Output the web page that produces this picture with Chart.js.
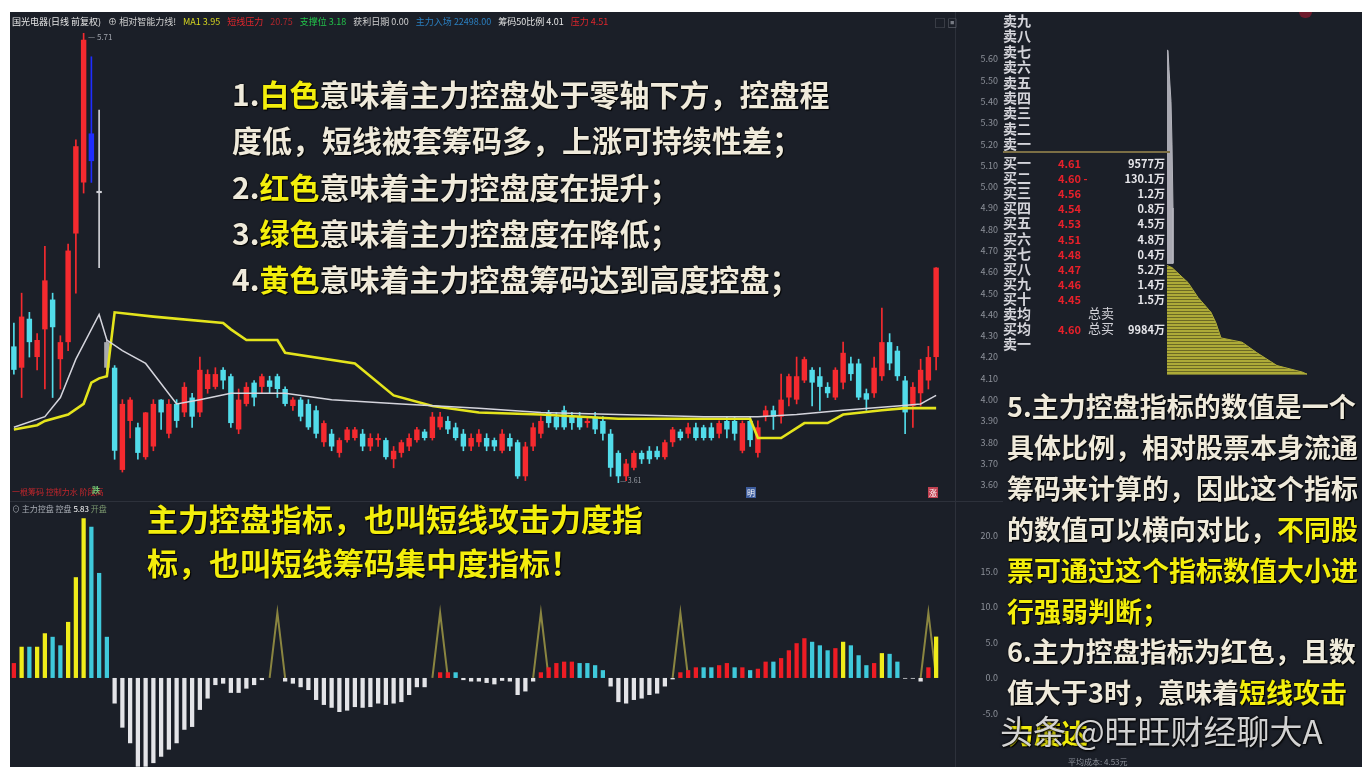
<!DOCTYPE html>
<html>
<head>
<meta charset="utf-8">
<script src="https://cdn.jsdelivr.net/npm/chart.js@4.4.1/dist/chart.umd.min.js"></script>
<style>
body { margin:0; width:1362px; height:767px; background:#fff; position:relative; overflow:hidden;
       font-family:"Noto Sans CJK SC","Noto Sans",sans-serif; }
#stage { position:absolute; left:10px; top:12px; width:1352px; height:755px; background:#1b1f28; }
canvas { position:absolute; }
.t { position:absolute; white-space:nowrap; }
.note { position:absolute; white-space:nowrap; font-weight:700; color:#efeadb;
        text-shadow:0 0 2px #000, 1px 1px 1px #000; }
.hl { color:#f3ee0c; }
.sep { position:absolute; background:#2d313b; }
.hdr span { margin-right:7px; }
</style>
</head>
<body>
<div id="stage"></div>
<div class="sep" style="left:955px;top:12px;width:1px;height:755px"></div>
<div class="sep" style="left:10px;top:501px;width:993px;height:1px"></div>

<canvas id="kline" width="988" height="488" style="left:10px;top:12px"></canvas>
<canvas id="depth" width="195" height="488" style="left:1167px;top:12px"></canvas>
<canvas id="ctrl" width="988" height="264" style="left:10px;top:503px"></canvas>

<div id="overlay"></div>

<script>
// K线数据 (日线, 120根)
const candleOpen  = [4.25,4.15,4.38,4.20,4.33,4.47,4.19,4.27,4.78,5.02,5.25,4.98,4.27,4.15,3.67,3.90,3.87,3.73,3.78,4.00,
                     3.84,3.98,3.94,4.01,3.94,4.05,4.06,4.14,4.11,3.86,3.98,4.08,4.06,4.09,4.11,4.05,3.97,4.00,3.98,3.95,
                     3.80,3.84,3.75,3.81,3.82,3.84,3.78,3.81,3.81,3.72,3.75,3.78,3.81,3.85,3.82,3.87,3.90,3.87,3.84,3.78,
                     3.80,3.82,3.81,3.76,3.82,3.80,3.64,3.78,3.84,3.94,3.92,3.95,3.92,3.92,3.89,3.92,3.90,3.84,3.75,3.64,
                     3.68,3.75,3.76,3.76,3.73,3.80,3.85,3.84,3.87,3.87,3.87,3.84,3.90,3.90,3.76,3.90,3.75,3.92,3.95,3.92,
                     4.01,4.00,4.09,4.14,4.11,4.06,4.01,4.08,4.17,4.17,4.03,4.03,4.11,4.27,4.23,4.09,3.97,4.03,4.09,4.20];
const candleClose = [4.14,4.39,4.27,4.28,4.56,4.34,4.27,4.70,5.19,5.69,5.12,4.97,4.15,3.76,3.98,4.00,3.75,3.94,3.98,3.94,
                     3.98,3.90,4.06,3.92,4.14,4.12,4.12,4.09,3.89,4.00,4.06,4.01,4.11,4.06,4.05,3.98,4.00,3.92,3.87,3.84,
                     3.89,3.78,3.81,3.86,3.86,3.78,3.82,3.82,3.73,3.76,3.80,3.82,3.86,3.82,3.92,3.92,3.86,3.82,3.78,3.82,
                     3.84,3.78,3.78,3.84,3.78,3.64,3.78,3.87,3.90,3.89,3.87,3.87,3.89,3.87,3.90,3.86,3.84,3.68,3.64,3.70,
                     3.75,3.72,3.72,3.73,3.80,3.86,3.82,3.87,3.82,3.82,3.82,3.89,3.86,3.84,3.89,3.81,3.87,3.95,3.92,4.00,
                     4.11,4.11,4.19,4.08,4.06,4.03,4.14,4.22,4.12,4.01,4.00,4.15,4.27,4.17,4.11,3.94,4.06,4.14,4.20,4.62];
const candleHigh  = [4.36,4.50,4.41,4.31,4.72,4.50,4.30,4.73,5.22,5.72,5.61,5.36,4.28,4.16,4.00,4.01,3.89,3.94,4.00,4.00,
                     4.00,4.00,4.08,4.03,4.20,4.14,4.15,4.15,4.12,4.05,4.08,4.09,4.12,4.11,4.12,4.06,4.01,4.01,4.00,3.97,
                     3.90,3.86,3.82,3.87,3.87,3.86,3.84,3.84,3.82,3.78,3.81,3.84,3.87,3.86,3.94,3.94,3.92,3.89,3.86,3.84,
                     3.86,3.84,3.82,3.86,3.84,3.81,3.80,3.89,3.92,3.95,3.94,3.97,3.94,3.94,3.92,3.94,3.92,3.86,3.76,3.72,
                     3.76,3.76,3.78,3.78,3.81,3.87,3.86,3.89,3.89,3.88,3.89,3.90,3.92,3.92,3.90,3.92,3.90,3.97,3.97,4.12,
                     4.12,4.20,4.20,4.15,4.15,4.08,4.15,4.27,4.20,4.19,4.05,4.20,4.43,4.31,4.25,4.11,4.08,4.19,4.25,4.62];
const candleLow   = [4.12,4.01,4.20,4.14,4.05,4.01,4.05,4.23,4.50,4.97,5.02,4.62,4.14,3.72,3.66,3.82,3.72,3.72,3.76,3.86,
                     3.82,3.87,3.92,3.87,3.92,4.03,4.05,4.05,3.87,3.84,3.97,3.97,4.03,4.03,4.01,3.97,3.95,3.90,3.86,3.82,
                     3.78,3.76,3.73,3.80,3.81,3.76,3.76,3.78,3.72,3.68,3.73,3.76,3.80,3.81,3.81,3.86,3.84,3.81,3.76,3.76,
                     3.78,3.76,3.76,3.75,3.76,3.63,3.62,3.76,3.82,3.87,3.86,3.86,3.86,3.86,3.87,3.84,3.81,3.64,3.61,3.62,
                     3.67,3.70,3.70,3.72,3.72,3.78,3.81,3.82,3.81,3.81,3.81,3.82,3.82,3.81,3.75,3.78,3.73,3.90,3.86,3.89,
                     3.97,3.98,4.08,3.97,3.95,4.01,4.00,4.05,4.09,4.00,3.95,4.01,4.09,4.14,4.09,3.84,3.87,3.97,4.05,4.14];

// 两条均线 (拐点: K线序号 -> 价格)
const yellowIdx = [0,3,4,7,9,10,11,12,13,18,27,28,30,34,35,44,49,54,60,68,78,95,96,99,102,105,107,112,115,119];
const yellowVal = [3.86,3.88,3.90,3.93,3.98,4.08,4.10,4.11,4.41,4.39,4.36,4.33,4.28,4.28,4.22,4.17,4.02,3.97,3.94,3.93,
                   3.91,3.91,3.82,3.82,3.89,3.89,3.93,3.95,3.96,3.96];
const whiteIdx  = [0,4,6,8,11,12,14,17,21,24,28,35,41,50,60,68,89,96,101,107,114,117,118,119];
const whiteVal  = [3.87,3.92,4.01,4.19,4.40,4.28,4.23,4.17,3.98,4.00,4.03,4.03,4.00,3.98,3.96,3.94,3.92,3.92,3.93,3.95,
                   3.97,3.98,4.00,4.02];
const priceTicks = [3.6,3.7,3.8,3.9,4.0,4.1,4.2,4.3,4.4,4.5,4.6,4.7,4.8,4.9,5.0,5.1,5.2,5.3,5.4,5.5,5.6];

// 主力控盘指标
const ctrlValues = [2.1,4.4,4.4,4.4,6.3,5.8,4.6,7.9,14.2,22.5,21.3,14.8,5.8,-3.6,-7.0,-9.2,-12.5,-12.5,-12.0,-11.1,
                    -10.1,-9.2,-7.3,-6.9,-4.5,-2.9,-1.0,-0.8,-2.1,-2.1,-1.5,-1.0,-0.3,0,0,-0.5,-0.8,-1.3,-1.7,-3.1,
                    -3.8,-4.2,-4.8,-4.6,-4.1,-4.2,-4.1,-3.6,-3.8,-3.6,-3.4,-2.4,-1.3,-1.3,0,0.8,0.8,0.8,-0.3,-0.5,
                    -0.5,-0.7,-0.9,-0.4,-0.5,-2.4,-1.9,-0.5,0.8,1.5,2.1,2.3,2.3,2.1,2.1,1.8,1.1,-1.2,-3.4,-3.6,
                    -3.1,-2.9,-2.4,-2.2,-1.2,-0.2,0.8,1.1,1.5,1.5,1.5,1.8,2.1,1.5,1.5,1.1,1.3,2.3,2.3,2.8,
                    3.9,4.9,5.6,5.1,4.6,3.9,4.2,5.1,4.6,3.2,1.8,2.1,3.5,3.4,2.3,-0.1,-0.1,-0.5,1.5,5.83];
// r 红 / y 黄 / c 绿(青) / w 白
const ctrlState = 'rycyyccyyyccc' +
                  'wwwwwwwwwwwwwwwwwwwwwwwwwwwwwwwwwwwwwwwwww' +
                  'rrc' + 'wwwwwwwwww' + 'rrrrr' + 'cccc' + 'wwwwwwwww' +
                  'rrrccrrcrcrrcrrrrcccryccc' + 'rycc' + 'www' + 'r' + 'y';
const spikeIdx = [34, 55, 68, 86, 118];
const spikeTop = [9.2, 9.2, 9.2, 9.2, 9.2];
const ctrlTicks = [20, 15, 10, 5, 0, -5];

// 筹码分布 (宽度, 价格)
const chipUpper = [[0,5.64],[1,5.64],[2,5.55],[4,5.40],[5,5.20],[6,4.90],[6,4.64],[0,4.64]];
const chipLower = [[0,4.63],[5,4.62],[21,4.55],[31,4.48],[44,4.41],[49,4.36],[54,4.29],[75,4.27],[90,4.22],
                   [110,4.16],[135,4.13],[140,4.12],[0,4.12]];

// 盘口
const sellLabels = ['卖九','卖八','卖七','卖六','卖五','卖四','卖三','卖二','卖一'];
const buyLabels  = ['买一','买二','买三','买四','买五','买六','买七','买八','买九','买十','卖均','买均','卖一'];
const buyPrices  = ['4.61','4.60 -','4.56','4.54','4.53','4.51','4.48','4.47','4.46','4.45','','4.60',''];
const buyMid     = ['','','','','','','','','','','总卖','总买',''];
const buyVols    = ['9577万','130.1万','1.2万','0.8万','4.5万','4.8万','0.4万','5.2万','1.4万','1.5万','','9984万',''];

Chart.defaults.font.family = '"Noto Sans CJK SC","Noto Sans",sans-serif';

const upColor = '#f52a2f', downColor = '#52dcea';
const candleTint = {10: '#1f2dff', 11: '#cfd0d6', 12: '#a8a9ae'};
const labels = candleOpen.map((_, i) => i);
const candleColors = candleOpen.map((o, i) => candleTint[i] || (candleClose[i] >= o ? upColor : downColor));

const PMIN = 3.529, PMAX = 5.82;

// 右侧刻度: 行高压到几乎为零, 不让标签把绘图区往里挤
const axisTicks = { color: '#8d919a', font: { size: 9, lineHeight: 0.01 }, padding: 0, crossAlign: 'far' };

// K线图
new Chart(document.getElementById('kline'), {
    type: 'bar',
    data: {
        labels: labels,
        datasets: [
            {
                data: candleLow.map((l, i) => [l, candleHigh[i]]),
                backgroundColor: candleColors,
                barThickness: 1, grouped: false, order: 3,
            },
            {
                data: candleOpen.map((o, i) => [o, candleClose[i]]),
                backgroundColor: candleColors,
                barPercentage: 0.7, categoryPercentage: 1, grouped: false, order: 2,
            },
            {
                type: 'line',
                data: yellowIdx.map((x, i) => ({x: x, y: yellowVal[i]})),
                borderColor: '#e4e41c', borderWidth: 2.6, pointRadius: 0, tension: 0, order: 1,
            },
            {
                type: 'line',
                data: whiteIdx.map((x, i) => ({x: x, y: whiteVal[i]})),
                borderColor: '#d4d4dc', borderWidth: 1.5, pointRadius: 0, tension: 0, order: 0,
            },
        ],
    },
    options: {
        responsive: false,
        animation: false,
        layout: { padding: 0 },
        plugins: { legend: { display: false }, tooltip: { enabled: false } },
        scales: {
            x: { display: false, offset: true },
            y: {
                position: 'right', min: PMIN, max: PMAX,
                grid: { display: false, drawTicks: false }, border: { display: false },
                afterFit: s => { s.width = 58; },
                afterBuildTicks: s => { s.ticks = priceTicks.map(v => ({ value: v })); },
                ticks: Object.assign({}, axisTicks, { callback: v => v.toFixed(2) }),
            },
        },
    },
});

// 筹码分布图
const pat = document.createElement('canvas');
pat.width = 4; pat.height = 3;
const pctx = pat.getContext('2d');
pctx.fillStyle = '#aeab38'; pctx.fillRect(0, 0, 4, 3);
pctx.fillStyle = '#6c6a25'; pctx.fillRect(0, 2, 4, 1);
const stripe = pctx.createPattern(pat, 'repeat');

new Chart(document.getElementById('depth'), {
    type: 'line',
    data: {
        datasets: [
            {
                data: chipUpper.map(p => ({x: p[0], y: p[1]})),
                borderColor: '#b4b4bc', borderWidth: 1, backgroundColor: '#a9a9b2',
                fill: 'shape', pointRadius: 0, tension: 0,
            },
            {
                data: chipLower.map(p => ({x: p[0], y: p[1]})),
                borderColor: '#aeab38', borderWidth: 1, backgroundColor: stripe,
                fill: 'shape', pointRadius: 0, tension: 0,
            },
        ],
    },
    options: {
        responsive: false,
        animation: false,
        layout: { padding: 0 },
        plugins: { legend: { display: false }, tooltip: { enabled: false } },
        scales: {
            x: { type: 'linear', display: false, min: 0, max: 195 },
            y: { type: 'linear', display: false, min: PMIN, max: PMAX },
        },
    },
});

// 主力控盘指标图
const stateColor = { r: '#ee1c24', y: '#f0ec1a', c: '#3fc9db', w: '#e4e4e8' };
const spikeData = labels.map(() => null);
spikeIdx.forEach((s, k) => {
    spikeData[s - 1] = 0;
    spikeData[s] = spikeTop[k];
    spikeData[s + 1] = 0;
});

new Chart(document.getElementById('ctrl'), {
    type: 'bar',
    data: {
        labels: labels,
        datasets: [
            {
                data: ctrlValues,
                backgroundColor: ctrlValues.map((v, i) => stateColor[ctrlState[i]]),
                barPercentage: 0.55, categoryPercentage: 1, order: 0,
            },
            {
                type: 'line',
                data: spikeData,
                borderColor: '#8a8540', borderWidth: 2, pointRadius: 0, tension: 0, order: 1,
            },
        ],
    },
    options: {
        responsive: false,
        animation: false,
        layout: { padding: 0 },
        plugins: { legend: { display: false }, tooltip: { enabled: false } },
        scales: {
            x: { display: false, offset: true },
            y: {
                position: 'right', min: -12.54, max: 24.65,
                grid: { display: false, drawTicks: false }, border: { display: false },
                afterFit: s => { s.width = 58; },
                afterBuildTicks: s => { s.ticks = ctrlTicks.map(v => ({ value: v })); },
                ticks: Object.assign({}, axisTicks, { callback: v => v.toFixed(1) }),
            },
        },
    },
});

// 文字层
const overlay = document.getElementById('overlay');
function addText(html, style, cls) {
    const d = document.createElement('div');
    d.className = cls || 't';
    d.innerHTML = html;
    d.setAttribute('style', style);
    overlay.appendChild(d);
    return d;
}

// 顶部标题
addText('<span style="color:#e6e6e6">国光电器(日线 前复权)</span>' +
        '<span style="color:#d0d0d0">⊕ 相对智能力线!</span>' +
        '<span style="color:#d8d820">MA1 3.95</span>' +
        '<span style="color:#e0262c">短线压力</span><span style="color:#b0262c">20.75</span>' +
        '<span style="color:#22c44a">支撑位 3.18</span>' +
        '<span style="color:#d0d0d0">获利日期 0.00</span>' +
        '<span style="color:#2a7fc0">主力入场 22498.00</span>' +
        '<span style="color:#e6e6e6">筹码50比例 4.01</span>' +
        '<span style="color:#e0262c">压力 4.51</span>',
        'left:12px;top:16px;font-size:9px;line-height:12px', 't hdr');
addText('▢ ▣', 'left:935px;top:15px;font-size:10px;color:#777b84');
addText('', 'left:1299px;top:12px;width:13px;height:6px;border-radius:0 0 7px 7px;background:#6e1a2c');

addText('— 5.71', 'left:88px;top:31px;font-size:8px;color:#a0a4ac');
addText('— 3.61', 'left:620px;top:475px;font-size:7px;color:#9a9ea6');
addText('一根筹码 控制力水 阶段高', 'left:12px;top:486px;font-size:8px;color:#c4262c');
addText('跌', 'left:92px;top:484px;font-size:8px;color:#6fc070;font-weight:700');
addText('明', 'left:746px;top:487px;font-size:8px;color:#fff;background:#3d5c9c;padding:0 1px');
addText('涨', 'left:928px;top:487px;font-size:8px;color:#fff;background:#c04050;padding:0 1px');
addText('⊙ 主力控盘 控盘 <span style="color:#fff">5.83</span> <span style="color:#7d9a70">开盘</span>',
        'left:12px;top:503px;font-size:8px;color:#a8acb4');

// 注释 1-4
addText('1.<span class="hl">白色</span>意味着主力控盘处于零轴下方，控盘程<br>' +
        '度低，短线被套筹码多，上涨可持续性差；<br>' +
        '2.<span class="hl">红色</span>意味着主力控盘度在提升；<br>' +
        '3.<span class="hl">绿色</span>意味着主力控盘度在降低；<br>' +
        '4.<span class="hl">黄色</span>意味着主力控盘筹码达到高度控盘；',
        'left:232px;top:70px;font-size:30px;line-height:46.3px', 'note');

addText('主力控盘指标，也叫短线攻击力度指<br>标，也叫短线筹码集中度指标！',
        'left:147px;top:496px;font-size:31px;line-height:44px;color:#f3ee0c', 'note');

// 注释 5-6
addText('5.主力控盘指标的数值是一个<br>' +
        '具体比例，相对股票本身流通<br>' +
        '筹码来计算的，因此这个指标<br>' +
        '的数值可以横向对比，<span class="hl">不同股</span><br>' +
        '<span class="hl">票可通过这个指标数值大小进</span><br>' +
        '<span class="hl">行强弱判断；</span><br>' +
        '6.主力控盘指标为红色，且数<br>' +
        '值大于3时，意味着<span class="hl">短线攻击</span><br>' +
        '<span class="hl">力度达</span>',
        'left:1007px;top:386px;font-size:27px;line-height:40.9px', 'note');

addText('头条 @旺旺财经聊大A',
        'left:1000px;top:710px;font-size:33px;line-height:40px;color:rgba(228,228,228,0.92);' +
        'text-shadow:0 0 3px #000,1px 1px 2px #000');
addText('平均成本: 4.53元', 'left:1068px;top:756px;font-size:8px;color:#8d919a');

// 盘口
sellLabels.forEach((s, k) => {
    addText(s, 'left:1003px;top:' + (12 + 15.4 * k) + 'px;font-size:14px;line-height:16px;font-weight:700;color:#d4d4da');
});
addText('', 'left:1003px;top:151px;width:167px;height:2px;background:#7c6f45');
buyLabels.forEach((s, k) => {
    const top = 154 + 15.1 * k;
    addText(s, 'left:1003px;top:' + top + 'px;font-size:14px;line-height:16px;font-weight:700;color:#d4d4da');
    if (buyPrices[k]) addText(buyPrices[k], 'left:1058px;top:' + (top + 2) + 'px;font-size:11px;line-height:14px;font-weight:700;color:#e8202a');
    if (buyMid[k]) addText(buyMid[k], 'left:1088px;top:' + top + 'px;font-size:13px;line-height:16px;color:#d4d4da');
    if (buyVols[k]) addText(buyVols[k], 'left:1095px;width:70px;text-align:right;top:' + (top + 2) + 'px;font-size:11px;line-height:14px;font-weight:700;color:#e6e6ea');
});
</script>
</body>
</html>
